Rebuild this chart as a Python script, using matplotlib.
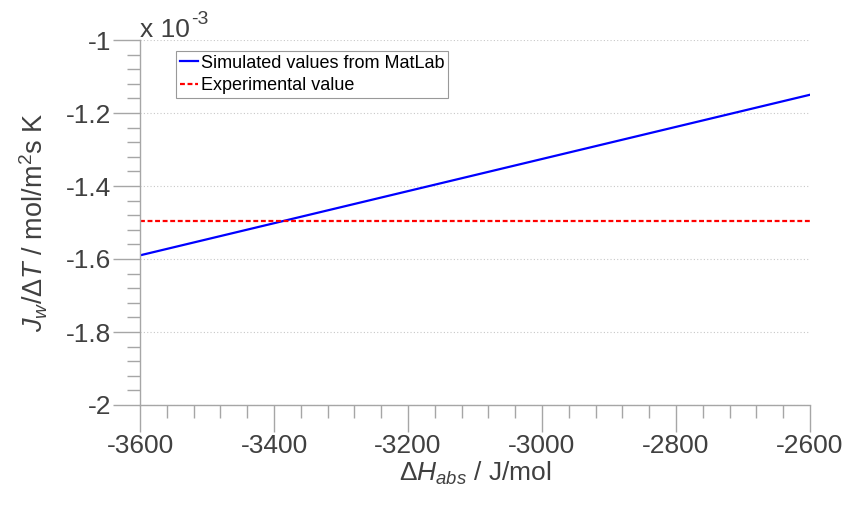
import matplotlib
matplotlib.use("Agg")
import matplotlib.pyplot as plt
from matplotlib.ticker import MultipleLocator, FuncFormatter

plt.rcParams['font.family'] = ['Liberation Sans', 'DejaVu Sans']
plt.rcParams['mathtext.fontset'] = 'custom'
plt.rcParams['mathtext.rm'] = 'Liberation Sans'
plt.rcParams['mathtext.it'] = 'Liberation Sans:italic'

# data
dH_abs = [-3600, -3400, -3200, -3000, -2800, -2600]
flux_sim = [-1.590e-3, -1.502e-3, -1.414e-3, -1.326e-3, -1.238e-3, -1.150e-3]
flux_exp = -1.495e-3

axis_col = '#a6a6a6'
text_col = '#404040'

fig = plt.figure(figsize=(8.43, 5.05), dpi=100)
ax = fig.add_axes([140 / 843, 1 - 405 / 505, 670 / 843, 365 / 505])

ax.plot(dH_abs, flux_sim, color='#0000ff', lw=1.6, label='Simulated values from MatLab')
ax.plot([dH_abs[0], dH_abs[-1]], [flux_exp, flux_exp], color='#ff0000', lw=1.6,
        ls=(0, (2.2, 1.2)), label='Experimental value')

ax.set_xlim(-3600, -2600)
ax.set_ylim(-2e-3, -1e-3)
ax.xaxis.set_major_locator(MultipleLocator(200))
ax.xaxis.set_minor_locator(MultipleLocator(40))
ax.yaxis.set_major_locator(MultipleLocator(0.2e-3))
ax.yaxis.set_minor_locator(MultipleLocator(0.04e-3))
ax.xaxis.set_major_formatter(FuncFormatter(lambda v, p: '%g' % v))
ax.yaxis.set_major_formatter(FuncFormatter(lambda v, p: '%g' % round(v * 1e3, 6)))

for s in ['top', 'right']:
    ax.spines[s].set_visible(False)
for s in ['left', 'bottom']:
    ax.spines[s].set_color(axis_col)
    ax.spines[s].set_linewidth(1.0)

# tick lengths in points (27 px / 13 px at 100 dpi)
ax.tick_params(which='major', direction='out', length=19.4, width=1, color=axis_col,
               labelsize=19, labelcolor=text_col, pad=1.5)
ax.tick_params(which='minor', direction='out', length=9.4, width=1, color=axis_col)

ax.grid(axis='y', which='major', ls=(0, (1, 2)), color='#c8c8c8', lw=0.8)

# MATLAB-style exponent label
ax.text(0.0, 1 + 3 / 365, 'x 10', transform=ax.transAxes, fontsize=19,
        color=text_col, ha='left', va='baseline')
ax.text(51 / 670, 1 + 16 / 365, '-3', transform=ax.transAxes, fontsize=14,
        color=text_col, ha='left', va='baseline')

ax.set_xlabel(r'$\mathit{\Delta H}_{\mathit{abs}}$ / J/mol', fontsize=19, color=text_col, labelpad=1)
ax.set_ylabel(r'$\mathit{J}_{\mathit{w}}$/$\mathit{\Delta T}$ / mol/m$^{\mathregular{2}}$s K',
              fontsize=19.5, color=text_col, labelpad=11)

leg = ax.legend(loc='upper left', bbox_to_anchor=(36 / 670, 1 - 11 / 365), fontsize=13,
                frameon=True, fancybox=False, handlelength=1.0, handletextpad=0.2,
                borderpad=0.2, labelspacing=0.3, borderaxespad=0)
leg.get_frame().set_edgecolor('#808080')
leg.get_frame().set_linewidth(0.8)

fig.savefig('out.png', dpi=100)
